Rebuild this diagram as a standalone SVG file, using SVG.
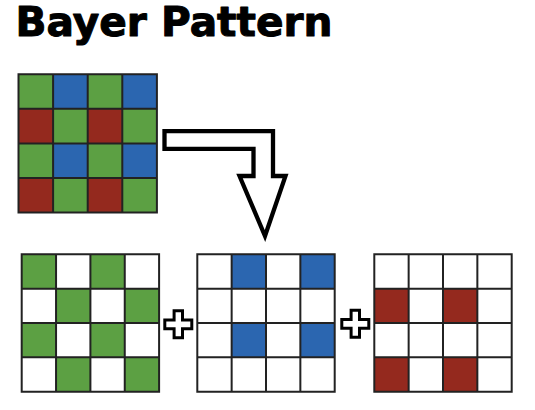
<svg xmlns="http://www.w3.org/2000/svg" width="535" height="410" viewBox="0 0 535 410">
<defs>
<style>
.g{fill:#5ca043}
.b{fill:#2b66b0}
.r{fill:#94291e}
.w{fill:#ffffff}
.grid{fill:none;stroke:#222222;stroke-width:2}
.outline{fill:#ffffff;stroke:#000000;stroke-width:4.3;stroke-linejoin:miter;stroke-miterlimit:10}
.plus{fill:#ffffff;stroke:#000000;stroke-width:3;stroke-linejoin:miter}
.title{font-family:"DejaVu Sans",sans-serif;font-weight:bold;font-size:40px;fill:#000000;stroke:#000000;stroke-width:1;stroke-linejoin:round}
</style>
</defs>
<rect width="535" height="410" fill="#ffffff"/>
<text class="title" x="15.5" y="36" textLength="317" lengthAdjust="spacingAndGlyphs">Bayer Pattern</text>

<g id="bayer-mosaic" transform="translate(18.5,74.2)">
<rect class="g" x="0" y="0" width="34.6" height="34.6"/>
<rect class="b" x="34.6" y="0" width="34.6" height="34.6"/>
<rect class="g" x="69.2" y="0" width="34.6" height="34.6"/>
<rect class="b" x="103.8" y="0" width="34.6" height="34.6"/>
<rect class="r" x="0" y="34.6" width="34.6" height="34.6"/>
<rect class="g" x="34.6" y="34.6" width="34.6" height="34.6"/>
<rect class="r" x="69.2" y="34.6" width="34.6" height="34.6"/>
<rect class="g" x="103.8" y="34.6" width="34.6" height="34.6"/>
<rect class="g" x="0" y="69.2" width="34.6" height="34.6"/>
<rect class="b" x="34.6" y="69.2" width="34.6" height="34.6"/>
<rect class="g" x="69.2" y="69.2" width="34.6" height="34.6"/>
<rect class="b" x="103.8" y="69.2" width="34.6" height="34.6"/>
<rect class="r" x="0" y="103.8" width="34.6" height="34.6"/>
<rect class="g" x="34.6" y="103.8" width="34.6" height="34.6"/>
<rect class="r" x="69.2" y="103.8" width="34.6" height="34.6"/>
<rect class="g" x="103.8" y="103.8" width="34.6" height="34.6"/>
<path class="grid" d="M0,0H138.4V138.4H0Z M34.6,0V138.4 M69.2,0V138.4 M103.8,0V138.4 M0,34.6H138.4 M0,69.2H138.4 M0,103.8H138.4"/>
</g>

<g id="green-channel" transform="translate(21.7,254.3)">
<rect class="w" x="0" y="0" width="137.4" height="137.4"/>
<rect class="g" x="0" y="0" width="34.35" height="34.35"/>
<rect class="g" x="68.7" y="0" width="34.35" height="34.35"/>
<rect class="g" x="34.35" y="34.35" width="34.35" height="34.35"/>
<rect class="g" x="103.05" y="34.35" width="34.35" height="34.35"/>
<rect class="g" x="0" y="68.7" width="34.35" height="34.35"/>
<rect class="g" x="68.7" y="68.7" width="34.35" height="34.35"/>
<rect class="g" x="34.35" y="103.05" width="34.35" height="34.35"/>
<rect class="g" x="103.05" y="103.05" width="34.35" height="34.35"/>
<path class="grid" d="M0,0H137.4V137.4H0Z M34.35,0V137.4 M68.7,0V137.4 M103.05,0V137.4 M0,34.35H137.4 M0,68.7H137.4 M0,103.05H137.4"/>
</g>

<g id="blue-channel" transform="translate(197.3,254.3)">
<rect class="w" x="0" y="0" width="137.4" height="137.4"/>
<rect class="b" x="34.35" y="0" width="34.35" height="34.35"/>
<rect class="b" x="103.05" y="0" width="34.35" height="34.35"/>
<rect class="b" x="34.35" y="68.7" width="34.35" height="34.35"/>
<rect class="b" x="103.05" y="68.7" width="34.35" height="34.35"/>
<path class="grid" d="M0,0H137.4V137.4H0Z M34.35,0V137.4 M68.7,0V137.4 M103.05,0V137.4 M0,34.35H137.4 M0,68.7H137.4 M0,103.05H137.4"/>
</g>

<g id="red-channel" transform="translate(374.3,254.3)">
<rect class="w" x="0" y="0" width="137.4" height="137.4"/>
<rect class="r" x="0" y="34.35" width="34.35" height="34.35"/>
<rect class="r" x="68.7" y="34.35" width="34.35" height="34.35"/>
<rect class="r" x="0" y="103.05" width="34.35" height="34.35"/>
<rect class="r" x="68.7" y="103.05" width="34.35" height="34.35"/>
<path class="grid" d="M0,0H137.4V137.4H0Z M34.35,0V137.4 M68.7,0V137.4 M103.05,0V137.4 M0,34.35H137.4 M0,68.7H137.4 M0,103.05H137.4"/>
</g>

<g id="connectors">
<path id="split-arrow" class="outline" d="M164.5,131.2 H273 V176 H285.5 L265,236 L239.5,176 H253.5 V148.8 H164.5 Z"/>
<path id="plus-1" class="plus" transform="translate(178.3,324.3)" d="M-4.2,-13.5 H4.2 V-4.4 H13.5 V4.4 H4.2 V13.5 H-4.2 V4.4 H-13.5 V-4.4 H-4.2 Z"/>
<path id="plus-2" class="plus" transform="translate(355.3,323.8)" d="M-4.2,-13.5 H4.2 V-4.4 H13.5 V4.4 H4.2 V13.5 H-4.2 V4.4 H-13.5 V-4.4 H-4.2 Z"/>
</g>
</svg>
